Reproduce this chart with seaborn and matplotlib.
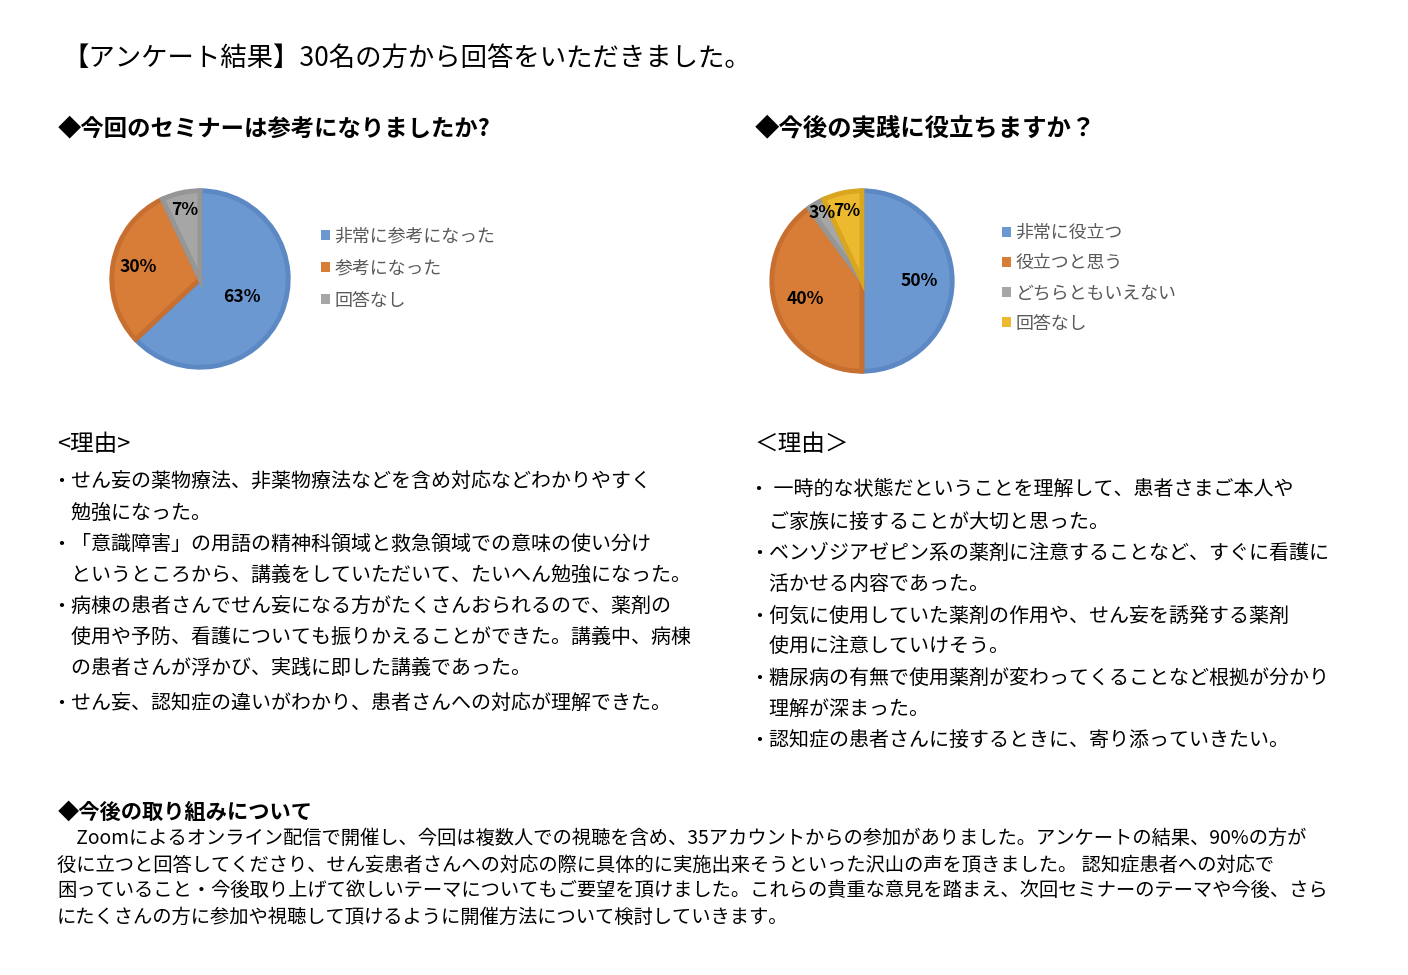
import matplotlib
matplotlib.use("Agg")
import matplotlib.pyplot as plt
import seaborn as sns
import numpy as np

# ---------------- data ----------------
title = "【アンケート結果】30名の方から回答をいただきました。"

q1_title = "◆今回のセミナーは参考になりましたか?"
q1_labels = ["非常に参考になった", "参考になった", "回答なし"]
q1_values = [63, 30, 7]

q2_title = "◆今後の実践に役立ちますか？"
q2_labels = ["非常に役立つ", "役立つと思う", "どちらともいえない", "回答なし"]
q2_values = [50, 40, 3, 7]

reason_left_head = "<理由>"
reason_left = [
    "・せん妄の薬物療法、非薬物療法などを含め対応などわかりやすく",
    "　勉強になった。",
    "・「意識障害」の用語の精神科領域と救急領域での意味の使い分け",
    "　というところから、講義をしていただいて、たいへん勉強になった。",
    "・病棟の患者さんでせん妄になる方がたくさんおられるので、薬剤の",
    "　使用や予防、看護についても振りかえることができた。講義中、病棟",
    "　の患者さんが浮かび、実践に即した講義であった。",
    "・せん妄、認知症の違いがわかり、患者さんへの対応が理解できた。",
]

reason_right_head = "＜理由＞"
reason_right = [
    "・ 一時的な状態だということを理解して、患者さまご本人や",
    "　ご家族に接することが大切と思った。",
    "・ベンゾジアゼピン系の薬剤に注意することなど、すぐに看護に",
    "　活かせる内容であった。",
    "・何気に使用していた薬剤の作用や、せん妄を誘発する薬剤",
    "　使用に注意していけそう。",
    "・糖尿病の有無で使用薬剤が変わってくることなど根拠が分かり",
    "　理解が深まった。",
    "・認知症の患者さんに接するときに、寄り添っていきたい。",
]

future_head = "◆今後の取り組みについて"
future_lines = [
    "　Zoomによるオンライン配信で開催し、今回は複数人での視聴を含め、35アカウントからの参加がありました。アンケートの結果、90%の方が",
    "役に立つと回答してくださり、せん妄患者さんへの対応の際に具体的に実施出来そうといった沢山の声を頂きました。 認知症患者への対応で",
    "困っていること・今後取り上げて欲しいテーマについてもご要望を頂けました。これらの貴重な意見を踏まえ、次回セミナーのテーマや今後、さら",
    "にたくさんの方に参加や視聴して頂けるように開催方法について検討していきます。",
]

# ---------------- style ----------------
sns.set_theme(style="white")
plt.rcParams['font.family'] = ['Noto Sans CJK JP', 'DejaVu Sans']

fill_colors = sns.color_palette(["#6C98D2", "#D87D38", "#A6A6A6", "#EDB92E"])
edge_colors = sns.color_palette(["#5C88C4", "#C76F30", "#969696", "#D9A61F"])

W, H = 1408, 975
fig = plt.figure(figsize=(W / 100, H / 100), dpi=100)
fig.patch.set_facecolor("white")


def P(x, y):
    return x / W, 1 - y / H


def ftext(x, y, s, **kw):
    kw.setdefault("va", "center")
    kw.setdefault("ha", "left")
    kw.setdefault("color", "black")
    fig.text(*P(x, y), s, **kw)


ftext(62, 58, title, fontsize=19)
ftext(58, 128, q1_title, fontsize=16.8, fontweight="bold")
ftext(755, 128, q2_title, fontsize=17.6, fontweight="bold")


def draw_pie(cx, cy, r, values, labels, dists, leg_x, leg_y, leg_spacing):
    ax = fig.add_axes([(cx - r) / W, 1 - (cy + r) / H, 2 * r / W, 2 * r / H])
    n = len(values)
    wedges, _ = ax.pie(values, colors=fill_colors[:n], startangle=90,
                       counterclock=False, radius=1,
                       wedgeprops=dict(linewidth=3.5, edgecolor="none"))
    for w, ec in zip(wedges, edge_colors[:n]):
        w.set_edgecolor(ec)
        w.set_joinstyle("miter")
    for w, v, d in zip(wedges, values, dists):
        ang = np.deg2rad((w.theta1 + w.theta2) / 2)
        ax.text(d * np.cos(ang), d * np.sin(ang), f"{v}%", ha="center",
                va="center", fontsize=12.6, fontweight="bold", color="black")
    ax.set_xlim(-1.02, 1.02)
    ax.set_ylim(-1.02, 1.02)
    ax.set_aspect("equal")
    ax.axis("off")
    leg = ax.legend(wedges, labels, loc="upper left",
                    bbox_to_anchor=P(leg_x, leg_y),
                    bbox_transform=fig.transFigure, frameon=False,
                    fontsize=12.9, handlelength=0.5, handleheight=0.5,
                    handletextpad=0.25, labelspacing=leg_spacing,
                    borderpad=0, borderaxespad=0)
    for t in leg.get_texts():
        t.set_color("#595959")
    for h in leg.legend_handles:
        h.set_linewidth(0)
    return ax


draw_pie(200, 279, 90, q1_values, q1_labels, [0.52, 0.71, 0.80],
         321, 227, 0.80)
draw_pie(862, 281, 92, q2_values, q2_labels, [0.63, 0.66, 0.88, 0.79],
         1002, 224, 0.68)

# reasons
ftext(57, 445, reason_left_head, fontsize=17)
left_y = [482, 513, 544, 575, 606, 637, 668, 703]
for y, s in zip(left_y, reason_left):
    ftext(51, y, s, fontsize=14.4)

ftext(755, 445, reason_right_head, fontsize=17)
right_y = [489, 522, 553, 585, 616, 647, 678, 709, 740]
for y, s in zip(right_y, reason_right):
    ftext(749, y, s, fontsize=14.4)

# future
ftext(58, 812, future_head, fontsize=15.3, fontweight="bold")
fut_y = [838, 865, 891, 917]
for y, s in zip(fut_y, future_lines):
    ftext(57, y, s, fontsize=13.9)

fig.savefig("out.png", dpi=100, facecolor="white")
